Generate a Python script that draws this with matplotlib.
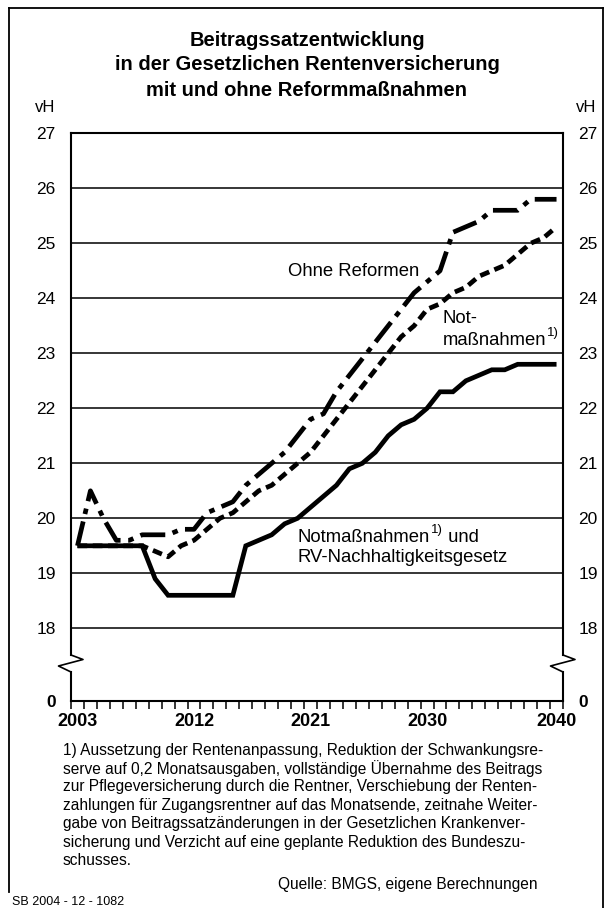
import matplotlib
matplotlib.use("Agg")
import matplotlib.pyplot as plt
from matplotlib.lines import Line2D

plt.rcParams['font.family'] = ['Liberation Sans', 'DejaVu Sans']
plt.rcParams['lines.scale_dashes'] = False

# ---------------- data ----------------
years = list(range(2003, 2041))
ohne_reformen = [19.5, 20.5, 20.0, 19.6, 19.6, 19.7, 19.7, 19.7, 19.8, 19.8,
                 20.1, 20.2, 20.3, 20.6, 20.8, 21.0, 21.2, 21.5, 21.8, 21.9,
                 22.3, 22.6, 22.9, 23.2, 23.5, 23.8, 24.1, 24.3, 24.5, 25.2,
                 25.3, 25.4, 25.6, 25.6, 25.6, 25.8, 25.8, 25.8]
notmassnahmen = [19.5, 19.5, 19.5, 19.5, 19.5, 19.5, 19.4, 19.3, 19.5, 19.6,
                 19.8, 20.0, 20.1, 20.3, 20.5, 20.6, 20.8, 21.0, 21.2, 21.5,
                 21.8, 22.1, 22.4, 22.7, 23.0, 23.3, 23.5, 23.8, 23.9, 24.1,
                 24.2, 24.4, 24.5, 24.6, 24.8, 25.0, 25.1, 25.3]
not_und_rv = [19.5, 19.5, 19.5, 19.5, 19.5, 19.5, 18.9, 18.6, 18.6, 18.6,
              18.6, 18.6, 18.6, 19.5, 19.6, 19.7, 19.9, 20.0, 20.2, 20.4,
              20.6, 20.9, 21.0, 21.2, 21.5, 21.7, 21.8, 22.0, 22.3, 22.3,
              22.5, 22.6, 22.7, 22.7, 22.8, 22.8, 22.8, 22.8]
y_ticks = [18, 19, 20, 21, 22, 23, 24, 25, 26, 27]
x_labels = [2003, 2012, 2021, 2030, 2040]

title_lines = ["Beitragssatzentwicklung",
               "in der Gesetzlichen Rentenversicherung",
               "mit und ohne Reformmaßnahmen"]
footnote = ["1) Aussetzung der Rentenanpassung, Reduktion der Schwankungsre-",
            "serve auf 0,2 Monatsausgaben, vollständige Übernahme des Beitrags",
            "zur Pflegeversicherung durch die Rentner, Verschiebung der Renten-",
            "zahlungen für Zugangsrentner auf das Monatsende, zeitnahe Weiter-",
            "gabe von Beitragssatzänderungen in der Gesetzlichen Krankenver-",
            "sicherung und Verzicht auf eine geplante Reduktion des Bundeszu-",
            "schusses."]
quelle = "Quelle: BMGS, eigene Berechnungen"
sb_code = "SB 2004 - 12 - 1082"

# ---------------- layout helpers (pixels, origin top-left) ----------------
W, H = 611, 908
fig = plt.figure(figsize=(W / 100, H / 100), dpi=100)

def fx(px):
    return px / W

def fy(py):
    return 1 - py / H

X0, X1 = 71, 563          # plot left/right
Y27, YBRK_T, YBRK_B, Y0 = 133.3, 655, 672, 701
PX_PER_UNIT = 55.0

# frame
frame_kw = dict(color='black', lw=1.3, transform=fig.transFigure)
fig.add_artist(Line2D([fx(9), fx(9)], [fy(8), fy(892)], **frame_kw))
fig.add_artist(Line2D([fx(9), fx(603)], [fy(8), fy(8)], **frame_kw))
fig.add_artist(Line2D([fx(603), fx(603)], [fy(8), fy(908)], **frame_kw))

# title
for i, t in enumerate(title_lines):
    fig.text(fx(307), fy(40 + 25 * i), t, ha='center', va='center',
             fontsize=14.5, fontweight='bold')

# ---------------- top axes ----------------
ax = fig.add_axes([fx(X0), fy(YBRK_T), fx(X1) - fx(X0), fy(Y27) - fy(YBRK_T)])
ymin = 27 - (YBRK_T - Y27) / PX_PER_UNIT
ax.set_ylim(ymin, 27)
ax.set_xlim(2002.5, 2040.5)
for s in ['left', 'right', 'top']:
    ax.spines[s].set_linewidth(1.5)
ax.spines['bottom'].set_visible(False)
ax.set_xticks([])
ax.set_yticks(y_ticks)
ax.set_yticklabels([str(v) for v in y_ticks])
ax.tick_params(axis='y', length=0, labelsize=12.5, pad=11,
               left=True, right=True, labelleft=True, labelright=True)
for v in y_ticks[:-1]:
    ax.axhline(v, color='black', lw=1.1, zorder=1)

ax.plot(years, ohne_reformen, color='black', lw=3.4,
        dashes=(18, 5.5, 4, 5.5), dash_capstyle='butt', zorder=3)
ax.plot(years, notmassnahmen, color='black', lw=3.4,
        dashes=(7, 4), dash_capstyle='butt', zorder=3)
ax.plot(years, not_und_rv, color='black', lw=3.4, solid_joinstyle='miter',
        solid_capstyle='butt', zorder=4)

FS = 13.3

def sup_text(x, y, parts):
    """parts: list of (text, is_superscript); x,y in data coords."""
    fig.canvas.draw()
    r = fig.canvas.get_renderer()
    t0 = ax.text(x, y, parts[0][0], fontsize=FS, ha='left', va='center')
    prev = t0
    base_y = ax.transData.transform((x, y))[1]
    for txt, sup in parts[1:]:
        bb = prev.get_window_extent(renderer=r)
        if sup:
            t = ax.text(bb.x1 + 1, base_y + 7, txt, fontsize=9.5, ha='left',
                        va='center', transform=None)
        else:
            t = ax.text(bb.x1, base_y, txt, fontsize=FS, ha='left',
                        va='center', transform=None)
        prev = t

ax.text(2019.25, 24.48, "Ohne Reformen", fontsize=FS, ha='left', va='center')
ax.text(2031.2, 23.64, "Not-", fontsize=FS, ha='left', va='center')
sup_text(2031.2, 23.24, [("maßnahmen", False), ("1)", True)])
sup_text(2020.0, 19.66, [("Notmaßnahmen", False), ("1)", True), (" und", False)])
ax.text(2020.0, 19.28, "RV-Nachhaltigkeitsgesetz", fontsize=FS, ha='left', va='center')

# ---------------- bottom axes (0 line) ----------------
ax2 = fig.add_axes([fx(X0), fy(Y0), fx(X1) - fx(X0), fy(YBRK_B) - fy(Y0)])
ax2.set_xlim(2002.5, 2040.5)
ax2.set_ylim(0, (Y0 - YBRK_B) / PX_PER_UNIT)
ax2.spines['top'].set_visible(False)
for s in ['left', 'right', 'bottom']:
    ax2.spines[s].set_linewidth(1.5)
ax2.set_yticks([0])
ax2.set_yticklabels(['0'], fontweight='bold')
ax2.tick_params(axis='y', length=0, labelsize=12.5, pad=11,
                left=True, right=True, labelleft=True, labelright=True)
ax2.set_xticks(x_labels)
ax2.set_xticklabels([str(v) for v in x_labels], fontweight='bold')
ax2.set_xticks([2002.5 + k for k in range(39)], minor=True)
ax2.tick_params(axis='x', which='major', length=0, labelsize=13, pad=9)
ax2.tick_params(axis='x', which='minor', length=6, width=1.1, direction='out')

# axis break zigzags
for xo in (X0, X1):
    pts_x = [xo, xo + 12, xo - 12.5, xo]
    pts_y = [YBRK_T, 659.5, 666, YBRK_B]
    fig.add_artist(Line2D([fx(p) for p in pts_x], [fy(p) for p in pts_y],
                          color='black', lw=1.2, transform=fig.transFigure))

# vH labels
fig.text(fx(55), fy(108), "vH", ha='right', va='center', fontsize=12)
fig.text(fx(576), fy(108), "vH", ha='left', va='center', fontsize=12)

# footnote
for i, line in enumerate(footnote):
    fig.text(fx(63), fy(750 + 18.4 * i), line, ha='left', va='center', fontsize=11.2)
fig.text(fx(538), fy(884), quelle, ha='right', va='center', fontsize=11.2)
fig.text(fx(12), fy(902), sb_code, ha='left', va='center', fontsize=9)

fig.savefig("out.png", dpi=100)
